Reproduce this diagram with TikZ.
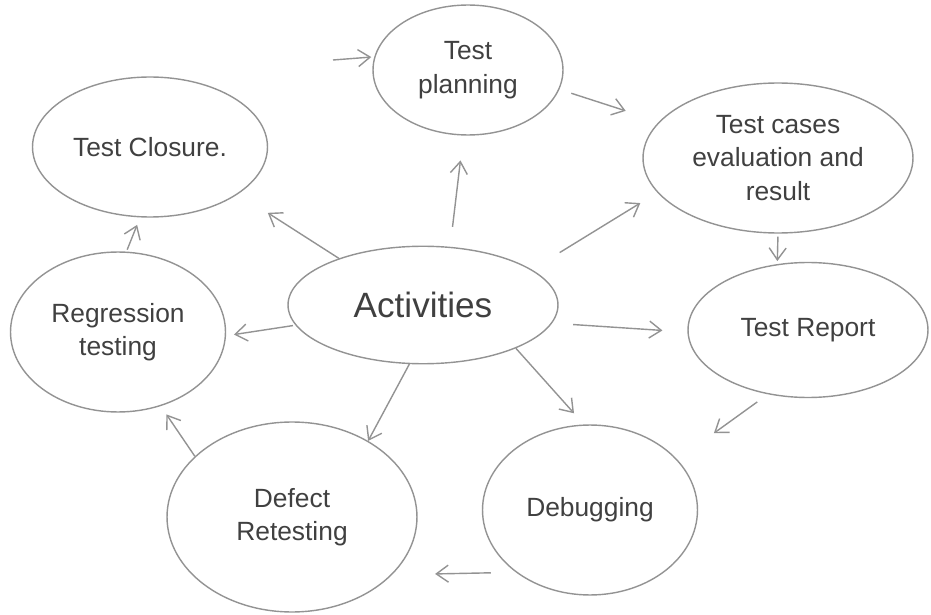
\documentclass[tikz,border=0pt]{standalone}
\usepackage{fontspec}
\setmainfont{Liberation Sans}
\usetikzlibrary{shapes.geometric,arrows.meta}

\begin{document}
\begin{tikzpicture}[x=0.02cm,y=-0.02cm]
        \tikzstyle{every node}=[ellipse,draw=gray!85,line width=0.8pt,inner sep=0pt,align=center,text=black!75,font=\fontsize{15}{19}\selectfont]
        \tikzstyle{arrow}=[-{Straight Barb[length=2.4mm,width=3.4mm]},draw=gray!85,line width=0.8pt]
        \useasboundingbox (0,0) rectangle (931,615);
        \node[minimum width=3.8cm,minimum height=2.6cm] (plan) at (468,70) {Test\\planning};
        \node[minimum width=4.7cm,minimum height=2.8cm] (clos) at (150,147) {Test Closure.};
        \node[minimum width=5.4cm,minimum height=3cm,inner xsep=-6pt] (cases) at (778,158) {Test cases\\evaluation and\\result};
        \node[minimum width=5.4cm,minimum height=2.35cm,font=\fontsize{20}{24}\selectfont] (act) at (423,305) {Activities};
        \node[minimum width=4.3cm,minimum height=3.2cm] (regr) at (118,332) {Regression\\testing};
        \node[minimum width=4.8cm,minimum height=2.7cm] (rep) at (808,330) {Test Report};
        \node[minimum width=5cm,minimum height=3.8cm] (defect) at (292,517) {Defect\\Retesting};
        \node[minimum width=4.3cm,minimum height=3.4cm] (debug) at (590,510) {Debugging};
        \coordinate (in) at (333,60);
        % cycle
        \draw[arrow,shorten >=0.06cm] (in) -- (plan.172);
        \draw[arrow,shorten <=0.25cm,shorten >=0.7cm] (plan.-12) -- (cases.163);
        \draw[arrow,shorten <=0.06cm,shorten >=0.06cm] (cases.-90) -- (rep.115);
        \draw[arrow,shorten <=0.26cm,shorten >=0.9cm] (rep.-122) -- (debug.30);
        \draw[arrow,shorten <=0.5cm,shorten >=0.86cm] (debug.220) -- (defect.-30);
        \draw[arrow,shorten >=0.2cm] (defect.148) -- (regr.-60);
        \draw[arrow,shorten <=0.04cm,shorten >=0.16cm] (regr.84) -- (clos.-98);
        % from activities
        \draw[arrow,shorten <=0.4cm,shorten >=0.5cm] (act.65) -- (plan.-94);
        \draw[arrow,shorten >=0.7cm] (act.151) -- (clos.-28);
        \draw[arrow,shorten <=0.65cm,shorten >=0.4cm] (act.18) -- (cases.196);
        \draw[arrow,shorten <=0.05cm,shorten >=0.16cm] (act.189) -- (regr.-2);
        \draw[arrow,shorten <=0.42cm,shorten >=0.5cm] (act.-8) -- (rep.181);
        \draw[arrow,shorten >=0.3cm] (act.-25) -- (debug.94);
        \draw[arrow] (act.-103) -- (defect.45);
\end{tikzpicture}
\end{document}
